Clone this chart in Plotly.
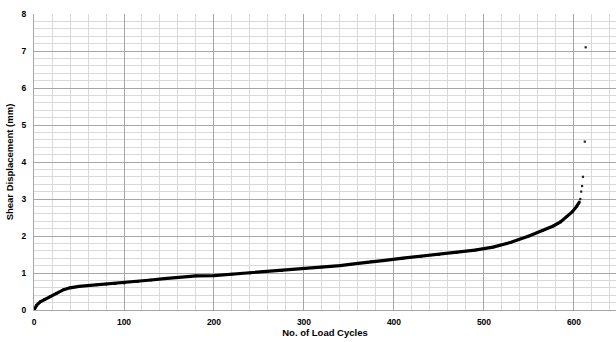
import plotly.graph_objects as go

# Main curve readings (No. of load cycles vs shear displacement, mm)
cycles = [0, 3, 7, 12, 18, 25, 33, 40, 50, 60, 70, 80, 90, 100, 115, 130, 145, 160,
          180, 200, 220, 240, 255, 275, 300, 320, 340, 360, 375, 390, 410, 430, 450,
          470, 490, 510, 530, 550, 565, 577, 585, 592, 598, 603, 606]
disp = [0, 0.13, 0.22, 0.29, 0.36, 0.45, 0.55, 0.60, 0.64, 0.66, 0.68, 0.70, 0.71,
        0.73, 0.77, 0.81, 0.85, 0.88, 0.92, 0.93, 0.97, 1.00, 1.04, 1.06, 1.12, 1.16,
        1.20, 1.26, 1.31, 1.34, 1.40, 1.45, 1.50, 1.56, 1.62, 1.70, 1.83, 2.00, 2.15,
        2.27, 2.38, 2.52, 2.65, 2.80, 2.92]

# Final cycles before failure
tail_cycles = [607, 608, 609, 610, 612, 613]
tail_disp = [3.00, 3.20, 3.35, 3.60, 4.55, 7.10]

x_ticks = [0, 100, 200, 300, 400, 500, 600]
y_ticks = [0, 1, 2, 3, 4, 5, 6, 7, 8]

FONT = "Liberation Sans"

fig = go.Figure()
fig.add_trace(go.Scatter(
    x=cycles, y=disp, mode="lines+markers",
    line=dict(color="black", width=3.2),
    marker=dict(color="black", size=2.5, symbol="square"),
    hoverinfo="x+y", showlegend=False))
fig.add_trace(go.Scatter(
    x=tail_cycles, y=tail_disp, mode="markers",
    marker=dict(color="#222222", size=2.2, symbol="square"),
    showlegend=False))

fig.update_layout(
    width=616, height=342,
    margin=dict(l=34, r=0, t=14, b=32, autoexpand=False),
    plot_bgcolor="white", paper_bgcolor="white",
    font=dict(family=FONT, size=9, color="black"),
    xaxis=dict(
        range=[0, 646.7], tickvals=x_ticks, ticktext=[str(v) for v in x_ticks],
        showgrid=True, gridcolor="#a6a6a6", gridwidth=1,
        minor=dict(dtick=20, tick0=0, showgrid=True, gridcolor="#d9d9d9", gridwidth=1),
        zeroline=False, showline=True, linecolor="#a6a6a6", linewidth=1,
        automargin=False,
        ticks="", ticklabelstandoff=4,
        tickfont=dict(family=FONT, size=8.5, color="black", weight="bold"),
        title=dict(text="<b>No. of Load Cycles</b>", font=dict(family=FONT, size=9.5), standoff=3),
    ),
    yaxis=dict(
        range=[0, 8], tickvals=y_ticks, ticktext=[str(v) for v in y_ticks],
        showgrid=True, gridcolor="#a6a6a6", gridwidth=1,
        minor=dict(dtick=0.2, tick0=0, showgrid=True, gridcolor="#d9d9d9", gridwidth=1),
        zeroline=False, showline=True, linecolor="#a6a6a6", linewidth=1,
        automargin=False,
        ticks="", ticklabelstandoff=5,
        tickfont=dict(family=FONT, size=8.5, color="black", weight="bold"),
        title=dict(text="<b>Shear Displacement (mm)</b>", font=dict(family=FONT, size=9.5), standoff=6),
    ),
)

fig.write_html(
    "out.html",
    config={"displayModeBar": False},
    post_script="document.body.style.margin='0';document.body.style.overflow='hidden';",
)
